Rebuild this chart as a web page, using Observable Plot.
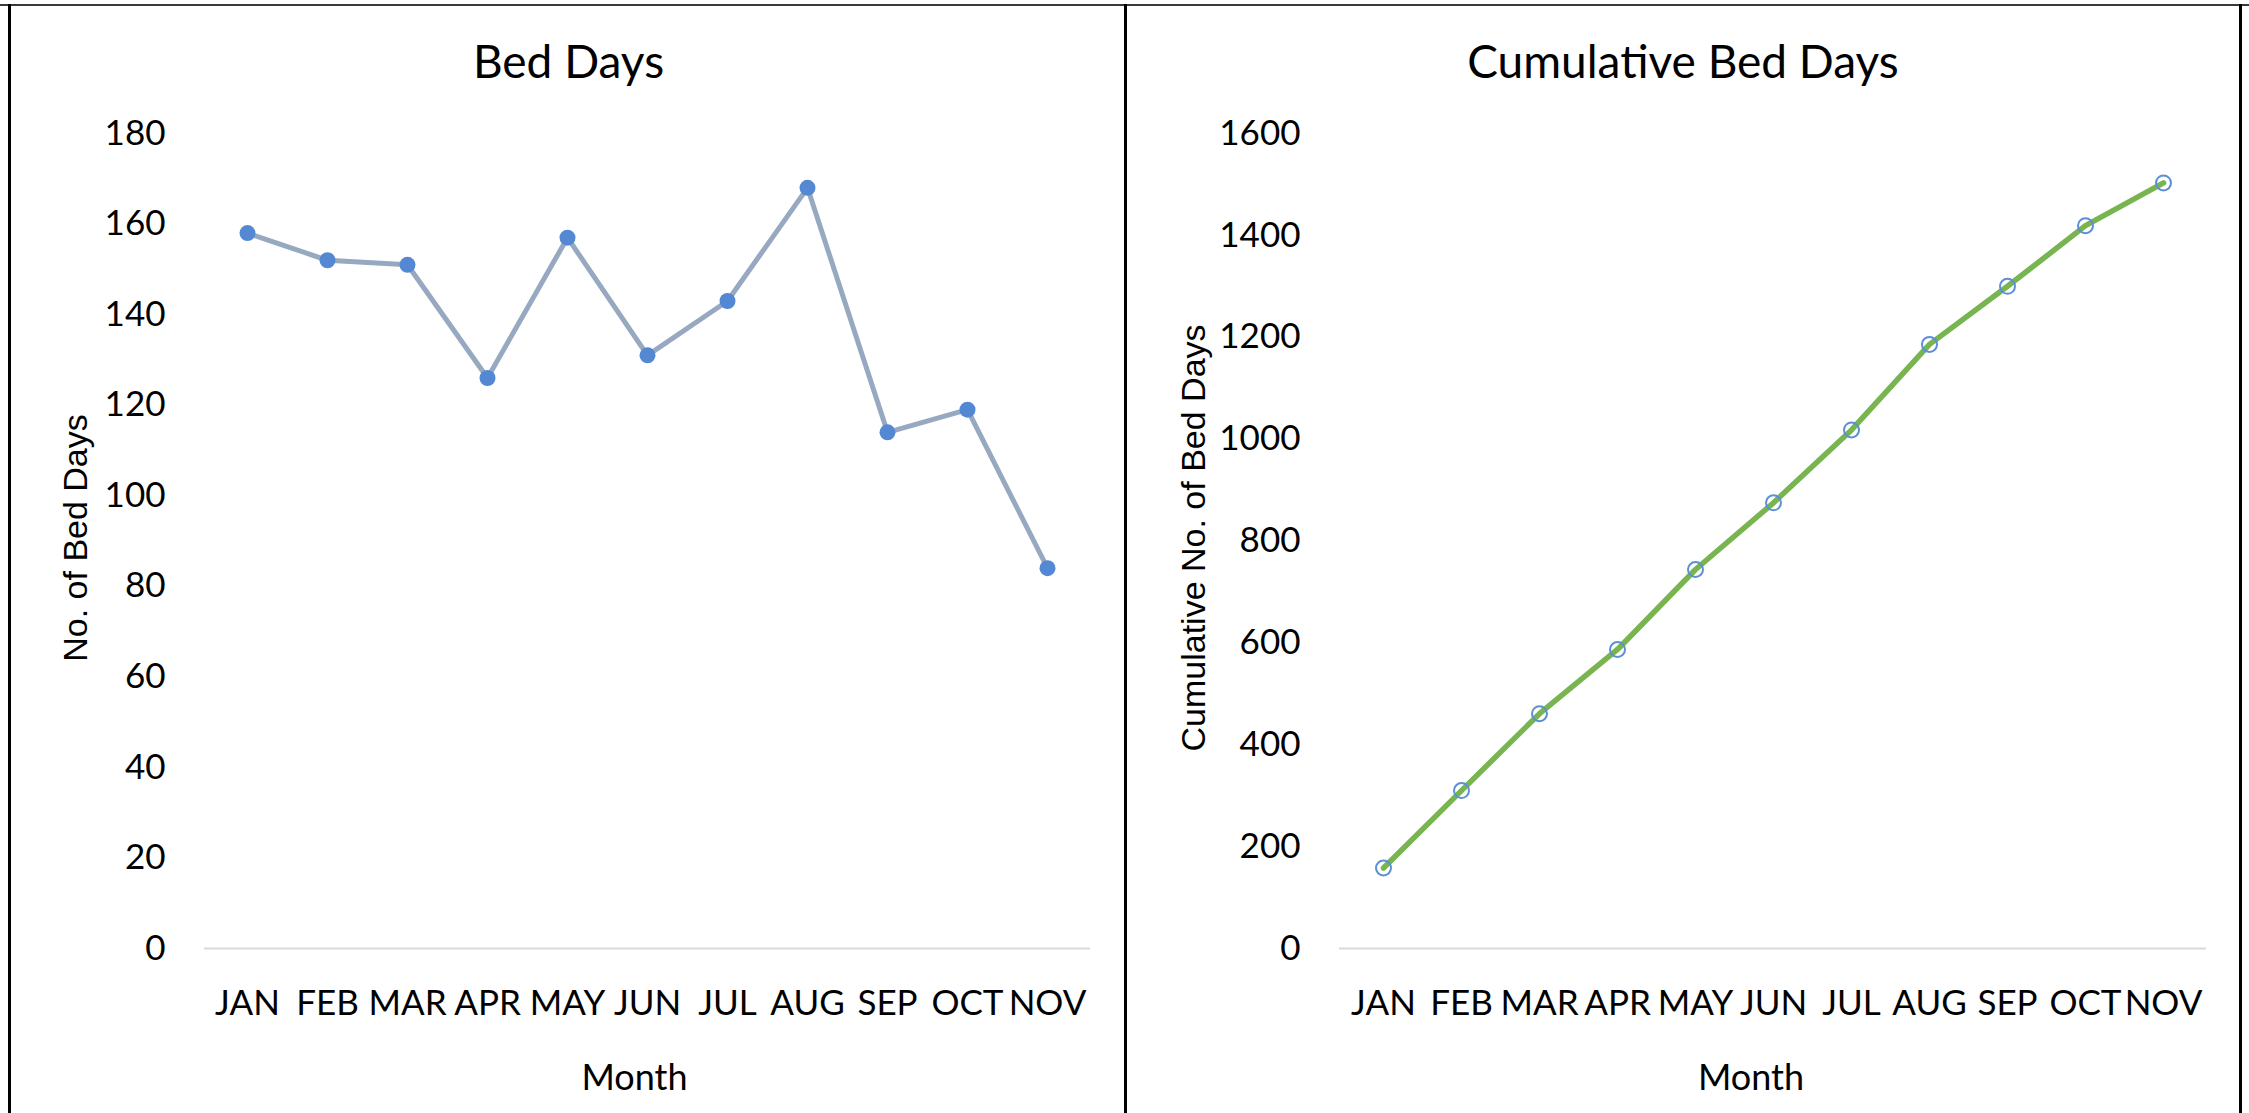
<!DOCTYPE html>
<html>
<head>
<meta charset="utf-8">
<script src="https://cdn.jsdelivr.net/npm/d3@7"></script>
<script src="https://cdn.jsdelivr.net/npm/@observablehq/plot@0.6"></script>
<style>
  html, body { margin: 0; padding: 0; background: #fff; }
  #root { position: relative; width: 2249px; height: 1113px; overflow: hidden; background: #fff; }
  .line { position: absolute; }
  .panel { position: absolute; top: 0; }
  .panel svg { overflow: visible; }
</style>
</head>
<body>
<div id="root">
  <div class="panel" id="left" style="left:0px"></div>
  <div class="panel" id="right" style="left:1125px"></div>
  <div class="line" style="left:0;top:4px;width:2249px;height:2px;background:#3a3a3a"></div>
  <div class="line" style="left:8px;top:4px;width:3px;height:1109px;background:#000"></div>
  <div class="line" style="left:1124px;top:4px;width:3px;height:1109px;background:#000"></div>
  <div class="line" style="left:2239px;top:4px;width:3px;height:1109px;background:#000"></div>
</div>
<script>
// ---- data ----
const months = ["JAN", "FEB", "MAR", "APR", "MAY", "JUN", "JUL", "AUG", "SEP", "OCT", "NOV"];
const bedDays = [158, 152, 151, 126, 157, 131, 143, 168, 114, 119, 84];
const cumulativeBedDays = [158, 310, 461, 587, 744, 875, 1018, 1186, 1300, 1419, 1503];
const bedDayTicks = [0, 20, 40, 60, 80, 100, 120, 140, 160, 180];
const cumulativeTicks = [0, 200, 400, 600, 800, 1000, 1200, 1400, 1600];
const leftTitle = "Bed Days";
const rightTitle = "Cumulative Bed Days";
const leftYLabel = "No. of Bed Days";
const rightYLabel = "Cumulative No. of Bed Days";
const xLabel = "Month";

const leftData = months.map((m, i) => ({month: m, value: bedDays[i]}));
const rightData = months.map((m, i) => ({month: m, value: cumulativeBedDays[i]}));

const baseFont = "Lato, 'Open Sans', sans-serif";
const labelFont = "'Liberation Sans', Arial, sans-serif";

function panel({ticks, yMax, width, marginLeft, marginRight, title, titleDx, yLabel, yLabelDx, xLabelDx, marks}) {
  return Plot.plot({
    width, height: 1113,
    marginLeft, marginRight, marginTop: 133, marginBottom: 165,
    style: {fontFamily: baseFont, fontSize: "35px", color: "#000", background: "transparent", overflow: "visible"},
    x: {type: "point", domain: months, padding: 0.5},
    y: {domain: [0, yMax]},
    marks: [
      Plot.ruleY([0], {stroke: "#d9d9d9", strokeWidth: 2}),
      ...marks,
      Plot.axisY({ticks, tickSize: 0, tickPadding: 39, tickFormat: d => String(d), label: null}),
      Plot.axisX({tickSize: 0, tickPadding: 42, label: null}),
      Plot.text([title], {text: d => d, frameAnchor: "top", dx: titleDx, dy: -70, fontSize: 46, textAnchor: "middle", lineAnchor: "middle"}),
      Plot.text([xLabel], {text: d => d, frameAnchor: "bottom", dx: xLabelDx, dy: 130, fontSize: 36, textAnchor: "middle", lineAnchor: "middle"}),
      Plot.text([yLabel], {text: d => d, frameAnchor: "left", dx: yLabelDx, dy: -3, rotate: -90, fontSize: 34, fontFamily: labelFont, textAnchor: "middle", lineAnchor: "middle"})
    ]
  });
}

const leftPlot = panel({
  ticks: bedDayTicks, yMax: 180, width: 1125, marginLeft: 204, marginRight: 35,
  title: leftTitle, titleDx: -79, yLabel: leftYLabel, yLabelDx: -128, xLabelDx: -13,
  marks: [
    Plot.line(leftData, {x: "month", y: "value", stroke: "#97a9c0", strokeWidth: 5}),
    Plot.dot(leftData, {x: "month", y: "value", r: 8, fill: "#5588d2", stroke: "none"})
  ]
});

const rightPlot = panel({
  ticks: cumulativeTicks, yMax: 1600, width: 1124, marginLeft: 214, marginRight: 43,
  title: rightTitle, titleDx: -90, yLabel: rightYLabel, yLabelDx: -145, xLabelDx: -22,
  marks: [
    Plot.line(rightData, {x: "month", y: "value", stroke: "#78b450", strokeWidth: 5.5}),
    Plot.dot(rightData, {x: "month", y: "value", r: 7.5, fill: "none", stroke: "#5b8fd8", strokeWidth: 2})
  ]
});

document.getElementById("left").appendChild(leftPlot);
document.getElementById("right").appendChild(rightPlot);
</script>
</body>
</html>
